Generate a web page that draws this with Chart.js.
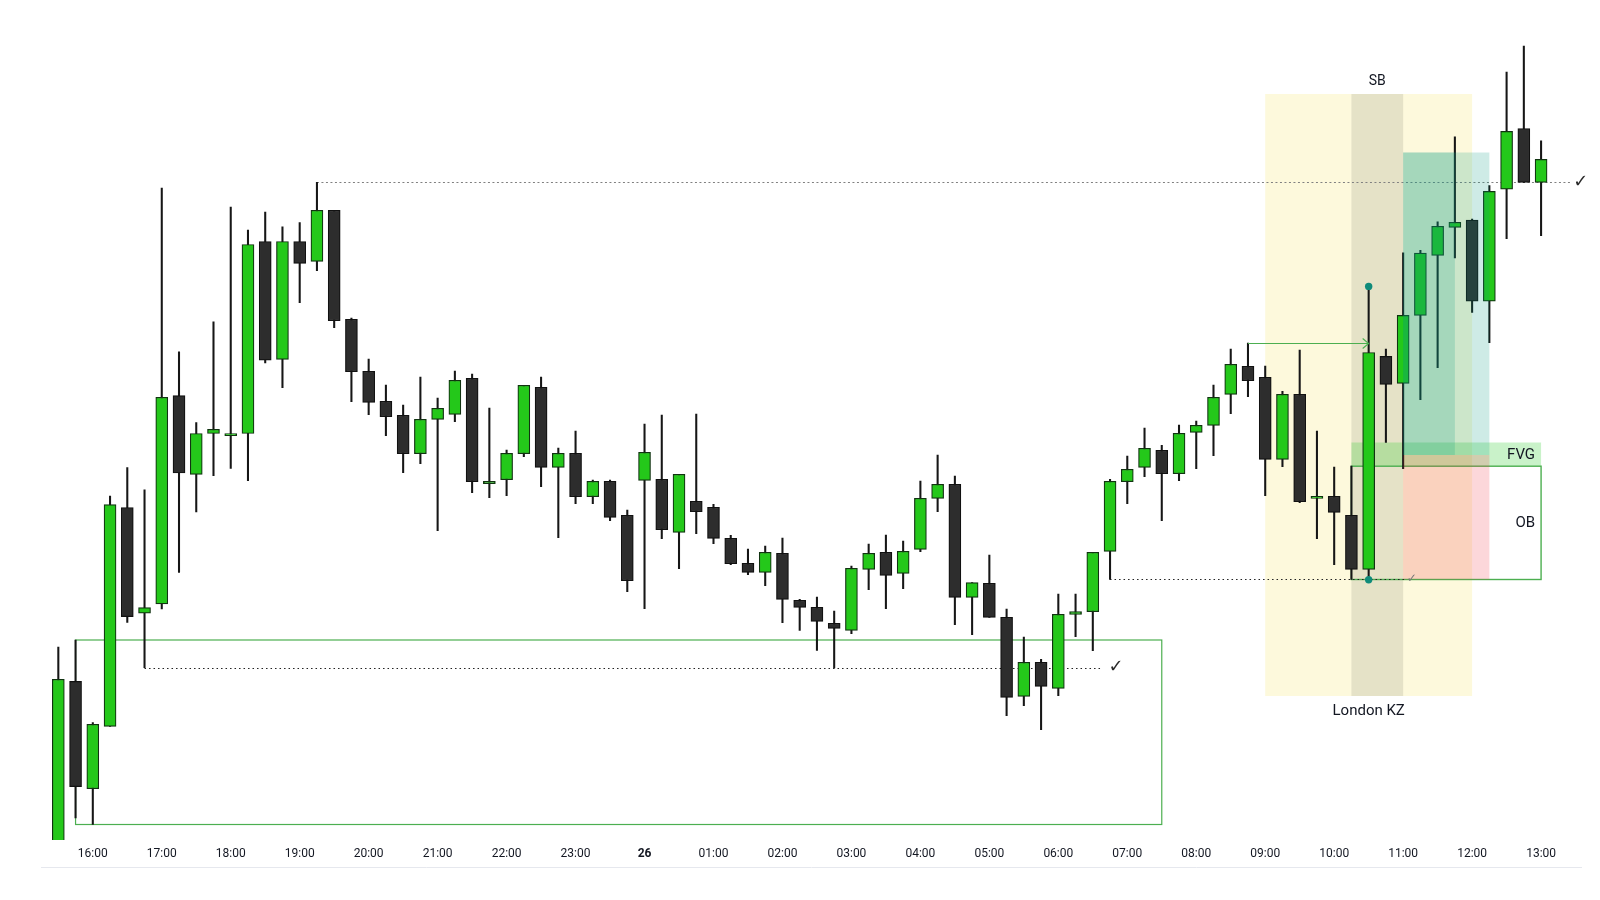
<!DOCTYPE html>
<html>
<head>
<meta charset="utf-8">
<script src="https://cdn.jsdelivr.net/npm/chart.js@4.4.1/dist/chart.umd.min.js"></script>
<style>
html,body{margin:0;padding:0;background:#ffffff;}
#wrap{width:1600px;height:900px;position:relative;}
</style>
</head>
<body>
<div id="wrap"><canvas id="c" width="1600" height="900"></canvas></div>
<script>
// ---- categories (15-minute bars) ----
const categories = ["15:30","15:45","16:00","16:15","16:30","16:45","17:00","17:15","17:30","17:45",
"18:00","18:15","18:30","18:45","19:00","19:15","19:30","19:45","20:00","20:15","20:30","20:45",
"21:00","21:15","21:30","21:45","22:00","22:15","22:30","22:45","23:00","23:15","23:30","23:45",
"00:00","00:15","00:30","00:45","01:00","01:15","01:30","01:45","02:00","02:15","02:30","02:45",
"03:00","03:15","03:30","03:45","04:00","04:15","04:30","04:45","05:00","05:15","05:30","05:45",
"06:00","06:15","06:30","06:45","07:00","07:15","07:30","07:45","08:00","08:15","08:30","08:45",
"09:00","09:15","09:30","09:45","10:00","10:15","10:30","10:45","11:00","11:15","11:30","11:45",
"12:00","12:15","12:30","12:45","13:00"];

// ---- tick labels shown on the time axis (every hour, starting at index 2) ----
const hourLabels = ["16:00","17:00","18:00","19:00","20:00","21:00","22:00","23:00","26","01:00",
"02:00","03:00","04:00","05:00","06:00","07:00","08:00","09:00","10:00","11:00","12:00","13:00"];
const firstHourIndex = 2;

// ---- OHLC series ----
const opens = [2020,2218.6,2111.3,2173.6,2392.5,2286.8,2296.1,2504.4,2425.7,2466.5,
2464.4,2466.5,2658.5,2540.6,2658.5,2638.7,2689.7,2580.7,2528.7,2498.7,
2484.7,2446.3,2480.7,2485.7,2521.7,2416.3,2420.3,2446.3,2512.7,2432.7,
2446.7,2403.3,2418.7,2384.7,2419.7,2420.7,2367.7,2398.7,2392.7,2361.7,
2336.7,2327.7,2346.7,2299.7,2292.7,2276.7,2269.7,2330.7,2347.7,2326.7,
2350.7,2401.7,2415.7,2302.7,2316.7,2282.7,2203.7,2237.7,2211.7,2285.7,
2288.3,2348.7,2418.3,2432.7,2449.7,2426.3,2467.7,2474.7,2505.7,2533.7,
2522.7,2440.7,2505.7,2401.7,2403.7,2384.7,2330.7,2543.6,2516.7,2584.6,
2644.6,2672.6,2679.9,2598.8,2710.8,2771.5,2717.7];
const highs = [2253,2260,2177.4,2403.8,2432.4,2410.1,2711.9,2548.2,2477.5,2578.1,
2693,2669.8,2687.9,2673.2,2677.4,2717.7,2689.7,2582,2541,2515,
2495,2523,2502,2529,2526,2492,2450,2514.7,2523,2452,
2469,2420,2420,2390,2476,2485,2425.7,2486,2395.7,2364.7,
2351,2354,2362,2300.7,2303,2289,2334,2356,2365,2359,
2419,2445,2424,2317.3,2345,2291,2263,2240.7,2306,2306,
2347.7,2420.7,2444,2472,2454.7,2475,2479,2515,2551,2557,
2534,2508.7,2550,2469,2433,2433.8,2613.6,2550.8,2647.2,2649.7,
2678.1,2763.1,2681,2714.4,2827.8,2854,2759.1];
const lows = [2010,2082,2075.5,2173.6,2277.6,2232.3,2291,2327.6,2388.2,2424.4,
2431.6,2419.4,2537.2,2512.4,2597.4,2629.3,2572.3,2498.3,2485.3,2464.3,
2427.3,2436.3,2369.3,2478.3,2407.3,2402.3,2404.3,2443.3,2413.3,2362.3,
2396.3,2396.3,2379.3,2308.3,2291.3,2361.3,2331.3,2366.3,2356.3,2335.3,
2325.3,2314.3,2277.3,2269.7,2249.7,2232,2266.3,2310.3,2291.3,2311.3,
2348.3,2388.3,2275.3,2265.3,2282.7,2184.3,2194.3,2170.3,2204.3,2263.3,
2249.3,2320.6,2396.3,2423.3,2379.3,2419.3,2431.3,2444.3,2486.3,2503.3,
2404.3,2433.3,2397.3,2361.3,2335.3,2320.5,2320.2,2457.5,2431.3,2500.3,
2532.3,2642.1,2587.6,2557.4,2661.3,2717.7,2664.3];
const closes = [2220.7,2113.4,2175.7,2395.4,2283.4,2292.3,2502.7,2427,2466.5,2470.7,
2466.5,2655.5,2539.8,2658.5,2636.6,2689.7,2579.3,2528.3,2497.7,2483.3,
2446.3,2480.7,2491.7,2519.7,2418.3,2418.7,2446.7,2514.7,2432.7,2446.7,
2403.3,2418.7,2382.7,2319.3,2447.7,2370.3,2425.7,2388.3,2361.7,2336.3,
2327.7,2347.7,2300.7,2292.7,2278.7,2271.7,2331.7,2346.7,2324.7,2348.7,
2401.7,2415.7,2302.7,2317.3,2282.7,2202.7,2237.7,2213.7,2285.7,2288.3,
2347.7,2418.7,2430.7,2451.7,2426.3,2466.7,2474.7,2502.7,2535.7,2519.3,
2440.7,2505.7,2398.3,2403.7,2387.7,2330.7,2547.5,2515.6,2584.6,2646.8,
2673.7,2677.7,2598.8,2708.6,2768.6,2717.7,2740.6];

// ---- drawing-tool levels (price units, bar indices) ----
const killZone = {from:70, to:82, top:2806, bottom:2204, label:"London KZ"};
const silverBullet = {from:75, to:78, label:"SB"};
const rangeBox = {from:1, to:64, top:highs[1], bottom:lows[2]};
const sslLevel = {from:5, to:60.5, check:61.35, price:lows[5]};
const bslLevel = {from:15, to:87.7, check:88.3, price:highs[15]};
const obSweep = {from:61, to:78.2, check:78.5, price:lows[61]};
const arrowLevel = {from:69, to:76, price:highs[69]};
const fvg = {from:75, to:86, top:lows[77], bottom:highs[75], label:"FVG"};
const orderBlock = {from:75, to:86, top:highs[75], bottom:lows[75], label:"OB"};
const position = {from:78, to:83, innerTo:81, target:2747.5, entry:2445, stop:2320.5};
const markerBar = 76;

const UP = '#24c81a', DOWN = '#2d2d2d';
const isUp = opens.map((o,i)=>closes[i] >= o);

const overlay = {
  id:'overlay',
  beforeDatasetsDraw(chart){
    const {ctx, scales:{x,y}, chartArea:a} = chart;
    const X = v => x.getPixelForValue(v), Y = v => y.getPixelForValue(v);
    ctx.save();
    // London kill zone + silver bullet
    ctx.fillStyle = '#fdf9dc';
    ctx.fillRect(X(killZone.from), Y(killZone.top), X(killZone.to)-X(killZone.from), Y(killZone.bottom)-Y(killZone.top));
    ctx.fillStyle = 'rgba(110,110,95,0.17)';
    ctx.fillRect(X(silverBullet.from), Y(killZone.top), X(silverBullet.to)-X(silverBullet.from), Y(killZone.bottom)-Y(killZone.top));
    // FVG band
    ctx.fillStyle = 'rgba(60,210,60,0.28)';
    ctx.fillRect(X(fvg.from), Y(fvg.top), X(fvg.to)-X(fvg.from), Y(fvg.bottom)-Y(fvg.top));
    // range box
    ctx.strokeStyle = '#4caf50'; ctx.lineWidth = 1.2;
    ctx.strokeRect(X(rangeBox.from), Y(rangeBox.top), X(rangeBox.to)-X(rangeBox.from), Y(rangeBox.bottom)-Y(rangeBox.top));
    // OB box
    ctx.strokeStyle = '#4caf50'; ctx.lineWidth = 1.4;
    ctx.strokeRect(X(orderBlock.from), Y(orderBlock.top), X(orderBlock.to)-X(orderBlock.from), Y(orderBlock.bottom)-Y(orderBlock.top));
    // dotted levels
    const dotted = (lv, color, dash) => {
      ctx.save(); ctx.beginPath(); ctx.setLineDash(dash); ctx.strokeStyle = color; ctx.lineWidth = 1.2;
      const yy = Math.round(Y(lv.price)) + 0.5;
      ctx.moveTo(X(lv.from), yy); ctx.lineTo(X(lv.to), yy); ctx.stroke(); ctx.restore();
    };
    dotted(sslLevel, '#222', [1.5, 3]);
    dotted(obSweep, '#222', [1.5, 3]);
    dotted(bslLevel, '#808080', [2, 2.5]);
    ctx.restore();
  },
  afterDatasetsDraw(chart){
    const {ctx, scales:{x,y}, chartArea:a} = chart;
    const X = v => x.getPixelForValue(v), Y = v => y.getPixelForValue(v);
    ctx.save();
    // position tool zones (drawn over candles)
    ctx.fillStyle = 'rgba(8,153,129,0.2)';
    ctx.fillRect(X(position.from), Y(position.target), X(position.to)-X(position.from), Y(position.entry)-Y(position.target));
    ctx.fillRect(X(position.from), Y(position.target), X(position.innerTo)-X(position.from), Y(position.entry)-Y(position.target));
    ctx.fillStyle = 'rgba(242,54,69,0.2)';
    ctx.fillRect(X(position.from), Y(position.entry), X(position.to)-X(position.from), Y(position.stop)-Y(position.entry));
    // arrow
    const ay = Math.round(Y(arrowLevel.price)) + 0.5, ax2 = X(arrowLevel.to);
    ctx.strokeStyle = '#4caf50'; ctx.lineWidth = 1.1;
    ctx.beginPath(); ctx.moveTo(X(arrowLevel.from), ay); ctx.lineTo(ax2, ay); ctx.stroke();
    ctx.beginPath(); ctx.moveTo(ax2-6, ay-5); ctx.lineTo(ax2, ay); ctx.lineTo(ax2-6, ay+5); ctx.stroke();
    // marker dots
    ctx.fillStyle = '#0f8b7a';
    [highs[markerBar], lows[markerBar]].forEach(p => { ctx.beginPath(); ctx.arc(X(markerBar), Y(p), 3.7, 0, Math.PI*2); ctx.fill(); });
    // texts
    ctx.fillStyle = '#131722';
    ctx.textBaseline = 'middle';
    ctx.textAlign = 'center';
    ctx.font = '14px Roboto';
    ctx.fillText(silverBullet.label, (X(silverBullet.from)+X(silverBullet.to))/2, Y(killZone.top) - 13);
    ctx.font = '15px Roboto';
    ctx.fillText(killZone.label, (X(killZone.from)+X(killZone.to))/2, Y(killZone.bottom) + 15);
    ctx.textAlign = 'right';
    ctx.fillText(fvg.label, X(fvg.to) - 6, (Y(fvg.top)+Y(fvg.bottom))/2 + 0.5);
    ctx.fillText(orderBlock.label, X(orderBlock.to) - 6, (Y(orderBlock.top)+Y(orderBlock.bottom))/2);
    // check marks
    ctx.textAlign = 'center';
    ctx.font = '18px "DejaVu Sans"';
    ctx.fillStyle = '#2a2a2a';
    ctx.fillText('\u2713', X(sslLevel.check), Y(sslLevel.price));
    ctx.fillText('\u2713', X(bslLevel.check), Y(bslLevel.price));
    ctx.font = '12px "DejaVu Sans"';
    ctx.fillStyle = '#777';
    ctx.fillText('\u2713', X(obSweep.check), Y(obSweep.price) - 1);
    // bottom separator
    ctx.strokeStyle = '#e6e8ee'; ctx.lineWidth = 1;
    ctx.beginPath(); ctx.moveTo(41, a.bottom + 27.5); ctx.lineTo(1582, a.bottom + 27.5); ctx.stroke();
    ctx.restore();
  }
};

new Chart(document.getElementById('c'), {
  type:'bar',
  data:{
    labels: categories,
    datasets:[
      {
        label:'body',
        data: opens.map((o,i)=>[o, closes[i]]),
        grouped:false,
        barThickness:12,
        backgroundColor: isUp.map(u => u ? UP : DOWN),
        borderColor: isUp.map(u => u ? '#113311' : '#111111'),
        borderWidth:1.2,
        borderSkipped:false,
        minBarLength:2
      },
      {
        label:'wick',
        data: lows.map((l,i)=>[l, highs[i]]),
        grouped:false,
        barThickness:1.4,
        backgroundColor:'#161616',
        borderWidth:0
      }
    ]
  },
  options:{
    responsive:false,
    animation:false,
    devicePixelRatio:1,
    events:[],
    layout:{padding:{left:49.7, right:50.3, top:0, bottom:31.6}},
    plugins:{legend:{display:false}, tooltip:{enabled:false}},
    scales:{
      x:{
        type:'category',
        offset:true,
        grid:{display:false, drawTicks:false},
        border:{display:false},
        ticks:{
          autoSkip:false, maxRotation:0, minRotation:0, padding:7,
          color:'#131722',
          font: ctx => ({family:'Roboto', size:12, weight:(ctx.tick && ctx.tick.label === '26') ? 'bold' : 'normal'}),
          callback:(v, i) => (i >= firstHourIndex && (i - firstHourIndex) % 4 === 0) ? hourLabels[(i - firstHourIndex)/4] : ''
        }
      },
      y:{display:false, min:2060, max:2900}
    }
  },
  plugins:[overlay]
});
</script>
</body>
</html>
